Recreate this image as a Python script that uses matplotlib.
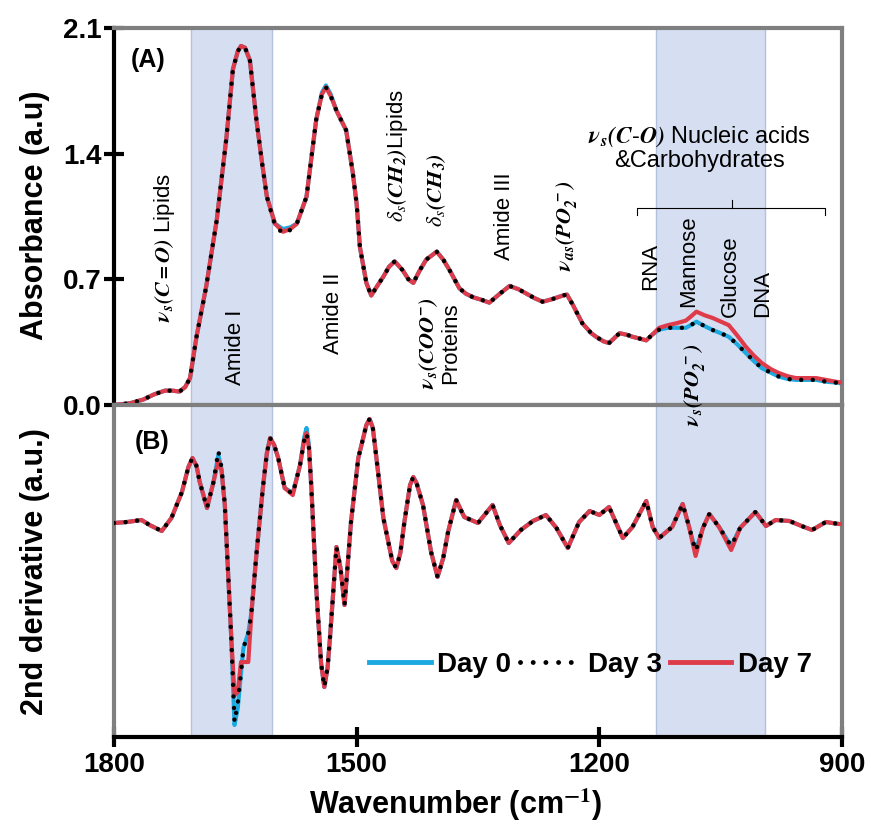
import matplotlib
matplotlib.use('Agg')
import matplotlib.pyplot as plt
from matplotlib.lines import Line2D

plt.rcParams['font.family'] = ['Liberation Sans', 'DejaVu Sans']
plt.rcParams['mathtext.fontset'] = 'stix'

# ---- (A) absorbance spectra ----
wn_abs = [1800, 1780, 1764, 1750, 1737, 1728, 1719, 1712, 1706, 1698,
          1686, 1673, 1661, 1653, 1647, 1643, 1638, 1632, 1624, 1617,
          1611, 1601, 1591, 1582, 1574, 1562, 1550, 1543, 1538, 1532,
          1525, 1513, 1505, 1500, 1496, 1488, 1482, 1475, 1467, 1460,
          1453, 1443, 1436, 1430, 1422, 1414, 1401, 1393, 1385, 1373,
          1365, 1356, 1345, 1336, 1323, 1311, 1300, 1290, 1280, 1270,
          1258, 1245, 1240, 1233, 1221, 1210, 1204, 1195, 1188, 1175,
          1165, 1159, 1150, 1142, 1135, 1126, 1115, 1105, 1093, 1085,
          1080, 1070, 1060, 1050, 1040, 1030, 1019, 1009, 999, 988,
          978, 967, 957, 945, 932, 920, 908, 900]

abs_day7 = [0.00, 0.01, 0.03, 0.06, 0.08, 0.08, 0.075, 0.10, 0.15, 0.38,
            0.66, 1.03, 1.49, 1.87, 1.97, 2.00, 1.99, 1.92, 1.59, 1.35,
            1.16, 1.01, 0.965, 0.98, 1.01, 1.16, 1.59, 1.73, 1.77, 1.72,
            1.64, 1.53, 1.30, 1.12, 0.88, 0.68, 0.61, 0.66, 0.715, 0.77,
            0.80, 0.75, 0.70, 0.68, 0.75, 0.81, 0.854, 0.81, 0.75, 0.65,
            0.62, 0.60, 0.585, 0.57, 0.62, 0.663, 0.645, 0.62, 0.595, 0.575,
            0.59, 0.61, 0.615, 0.56, 0.455, 0.40, 0.38, 0.355, 0.345, 0.40,
            0.39, 0.38, 0.37, 0.36, 0.39, 0.43, 0.445, 0.455, 0.47, 0.50,
            0.52, 0.50, 0.485, 0.465, 0.445, 0.39, 0.325, 0.275, 0.233, 0.20,
            0.178, 0.16, 0.15, 0.15, 0.15, 0.14, 0.13, 0.125]

abs_day0 = [0.00, 0.01, 0.03, 0.06, 0.08, 0.08, 0.075, 0.10, 0.15, 0.38,
            0.66, 1.03, 1.49, 1.87, 1.97, 2.00, 1.99, 1.92, 1.59, 1.35,
            1.16, 1.01, 0.98, 0.99, 1.01, 1.16, 1.59, 1.74, 1.78, 1.73,
            1.64, 1.53, 1.30, 1.12, 0.88, 0.68, 0.61, 0.66, 0.715, 0.77,
            0.80, 0.75, 0.70, 0.68, 0.75, 0.81, 0.854, 0.81, 0.75, 0.65,
            0.62, 0.60, 0.585, 0.57, 0.62, 0.663, 0.645, 0.62, 0.595, 0.575,
            0.59, 0.61, 0.615, 0.56, 0.455, 0.40, 0.38, 0.355, 0.345, 0.40,
            0.39, 0.38, 0.37, 0.36, 0.39, 0.42, 0.43, 0.43, 0.43, 0.45,
            0.464, 0.44, 0.418, 0.40, 0.38, 0.34, 0.29, 0.245, 0.205, 0.18,
            0.158, 0.145, 0.14, 0.14, 0.14, 0.13, 0.125, 0.12]

abs_day3 = [0.00, 0.01, 0.03, 0.06, 0.08, 0.08, 0.075, 0.10, 0.15, 0.38,
            0.66, 1.03, 1.49, 1.87, 1.97, 2.00, 1.99, 1.92, 1.59, 1.35,
            1.16, 1.00, 0.955, 0.975, 1.01, 1.16, 1.59, 1.73, 1.77, 1.72,
            1.64, 1.53, 1.30, 1.12, 0.88, 0.68, 0.61, 0.66, 0.715, 0.77,
            0.80, 0.75, 0.70, 0.68, 0.75, 0.81, 0.854, 0.81, 0.75, 0.65,
            0.62, 0.60, 0.585, 0.57, 0.62, 0.663, 0.645, 0.62, 0.595, 0.575,
            0.59, 0.61, 0.615, 0.56, 0.455, 0.40, 0.38, 0.355, 0.345, 0.40,
            0.39, 0.38, 0.37, 0.36, 0.39, 0.42, 0.43, 0.43, 0.43, 0.45,
            0.464, 0.44, 0.418, 0.40, 0.38, 0.34, 0.29, 0.245, 0.205, 0.18,
            0.158, 0.145, 0.14, 0.14, 0.14, 0.13, 0.125, 0.12]

# ---- (B) second derivative ----
wn_d2 = [1800, 1784, 1766, 1756, 1741, 1729, 1716, 1708, 1703, 1698,
         1694, 1685, 1677, 1671, 1667, 1663, 1659, 1655, 1651, 1647,
         1643, 1640, 1634, 1630, 1624, 1616, 1611, 1607, 1602, 1597,
         1589, 1579, 1570, 1565, 1562, 1559, 1556, 1550, 1544, 1540,
         1536, 1533, 1525, 1520, 1515, 1507, 1498, 1488, 1484, 1480,
         1476, 1467, 1456, 1451, 1446, 1441, 1434, 1430, 1426, 1418,
         1408, 1400, 1393, 1387, 1377, 1367, 1350, 1332, 1323, 1312,
         1297, 1282, 1266, 1253, 1239, 1225, 1212, 1200, 1188, 1171,
         1159, 1142, 1134, 1126, 1110, 1097, 1089, 1081, 1072, 1064,
         1052, 1037, 1026, 1007, 994, 982, 965, 950, 937, 920,
         904, 900]

d2_day7 = [0.00, 0.01, 0.03, -0.02, -0.08, 0.05, 0.31, 0.56, 0.65, 0.57,
           0.41, 0.15, 0.41, 0.63, 0.52, 0.18, -0.49, -1.15, -1.72, -1.69,
           -1.39, -1.39, -1.39, -0.89, -0.32, 0.35, 0.70, 0.85, 0.78, 0.65,
           0.35, 0.28, 0.58, 0.82, 0.90, 0.75, 0.35, -0.65, -1.40, -1.64,
           -1.45, -1.15, -0.24, -0.45, -0.82, 0.01, 0.65, 0.98, 1.04, 0.95,
           0.68, 0.05, -0.38, -0.45, -0.30, 0.01, 0.38, 0.46, 0.40, 0.18,
           -0.29, -0.54, -0.35, -0.09, 0.23, 0.06, 0.00, 0.18, -0.02, -0.20,
           -0.07, 0.02, 0.08, -0.05, -0.25, 0.01, 0.12, 0.08, 0.16, -0.15,
           -0.04, 0.22, -0.04, -0.15, -0.04, 0.19, -0.04, -0.33, -0.05, 0.09,
           -0.04, -0.27, -0.05, 0.11, -0.03, 0.03, 0.02, -0.03, -0.07, 0.01,
           -0.01, -0.01]

d2_day0 = [0.00, 0.01, 0.03, -0.02, -0.08, 0.05, 0.31, 0.56, 0.65, 0.57,
           0.41, 0.15, 0.41, 0.68, 0.54, 0.18, -0.49, -1.15, -2.02, -1.85,
           -1.50, -1.25, -1.10, -0.89, -0.32, 0.35, 0.70, 0.85, 0.78, 0.65,
           0.35, 0.30, 0.58, 0.85, 0.95, 0.78, 0.35, -0.65, -1.40, -1.64,
           -1.45, -1.15, -0.24, -0.45, -0.82, 0.01, 0.65, 0.98, 1.04, 0.95,
           0.68, 0.05, -0.38, -0.45, -0.30, 0.01, 0.38, 0.46, 0.40, 0.18,
           -0.29, -0.54, -0.35, -0.09, 0.23, 0.06, 0.00, 0.18, -0.02, -0.20,
           -0.07, 0.02, 0.08, -0.05, -0.25, 0.01, 0.12, 0.08, 0.16, -0.15,
           -0.04, 0.22, -0.04, -0.15, -0.04, 0.19, -0.04, -0.28, -0.05, 0.09,
           -0.04, -0.23, -0.05, 0.11, -0.03, 0.03, 0.02, -0.03, -0.07, 0.01,
           -0.01, -0.01]

d2_day3 = [0.00, 0.01, 0.03, -0.02, -0.08, 0.05, 0.31, 0.56, 0.65, 0.57,
           0.41, 0.15, 0.41, 0.72, 0.55, 0.18, -0.49, -1.15, -1.99, -1.80,
           -1.50, -1.25, -1.10, -0.89, -0.32, 0.35, 0.70, 0.85, 0.78, 0.65,
           0.35, 0.29, 0.58, 0.82, 0.90, 0.75, 0.35, -0.65, -1.40, -1.64,
           -1.45, -1.15, -0.24, -0.45, -0.82, 0.01, 0.65, 0.98, 1.04, 0.95,
           0.68, 0.05, -0.38, -0.45, -0.30, 0.01, 0.38, 0.46, 0.40, 0.18,
           -0.29, -0.54, -0.35, -0.09, 0.23, 0.06, 0.00, 0.18, -0.02, -0.20,
           -0.07, 0.02, 0.08, -0.05, -0.25, 0.01, 0.12, 0.08, 0.16, -0.15,
           -0.04, 0.22, -0.04, -0.15, -0.04, 0.19, -0.04, -0.28, -0.05, 0.09,
           -0.04, -0.23, -0.05, 0.11, -0.03, 0.03, 0.02, -0.03, -0.07, 0.01,
           -0.01, -0.01]

# shaded bands (cm-1)
bands = [(1705, 1605), (1130, 995)]

c_day0 = '#1ca9e0'
c_day7 = '#de3b4b'
gray = '#7f7f7f'
band_col = '#d6dff1'

fig = plt.figure(figsize=(8.71, 8.27), dpi=100)
ax1 = fig.add_axes([114 / 871, 1 - 405 / 827, 728 / 871, 377 / 827])
ax2 = fig.add_axes([114 / 871, 1 - 737 / 827, 728 / 871, 332 / 827])

for ax in (ax1, ax2):
    for lo, hi in bands:
        ax.axvspan(hi, lo, facecolor=band_col, edgecolor='#b3c1df', lw=1, zorder=0)
    ax.set_xlim(1800, 900)

dots = (0, (0.01, 2.6))
for ax, x, d0, d3, d7 in ((ax1, wn_abs, abs_day0, abs_day3, abs_day7),
                          (ax2, wn_d2, d2_day0, d2_day3, d2_day7)):
    ax.plot(x, d0, color=c_day0, lw=3, zorder=2)
    ax.plot(x, d7, color=c_day7, lw=3, zorder=3)
    ax.plot(x, d3, color='black', lw=3.2, ls=dots, dash_capstyle='round', zorder=4)

# axes styling
ax1.set_ylim(0, 2.1)
ax1.set_yticks([0, 0.7, 1.4, 2.1])
ax1.set_yticklabels(['0.0', '0.7', '1.4', '2.1'], fontsize=20, fontweight='bold')
ax1.tick_params(axis='y', direction='inout', length=14, width=3, pad=2)
ax1.tick_params(axis='x', bottom=False, labelbottom=False)
for s in ('top', 'right', 'bottom'):
    ax1.spines[s].set_color(gray)
    ax1.spines[s].set_linewidth(3)
ax1.spines['left'].set_color('black')
ax1.spines['left'].set_linewidth(3)

ax2.set_ylim(-2.14, 1.18)
ax2.set_yticks([])
ax2.set_xticks([1800, 1500, 1200, 900])
ax2.set_xticklabels(['1800', '1500', '1200', '900'], fontsize=20, fontweight='bold')
ax2.tick_params(axis='x', direction='inout', length=14, width=3, pad=4)
for s in ('top', 'right', 'left'):
    ax2.spines[s].set_color(gray)
    ax2.spines[s].set_linewidth(3)
ax2.spines['bottom'].set_color('black')
ax2.spines['bottom'].set_linewidth(3)

fig.text(35 / 871, 1 - 215 / 827, 'Absorbance (a.u)', rotation=90, ha='center',
         va='center', fontsize=22, fontweight='bold')
fig.text(35 / 871, 1 - 572 / 827, '2nd derivative (a.u.)', rotation=90,
         ha='center', va='center', fontsize=22, fontweight='bold')
fig.text(456 / 871, 1 - 805 / 827, 'Wavenumber (cm$^{\\mathbf{-1}}$)', ha='center',
         va='center', fontsize=22, fontweight='bold')

# panel letters
ax1.text(1758, 1.92, '(A)', ha='center', va='center', fontsize=18, fontweight='bold')
ax2.text(1753, 0.81, '(B)', ha='center', va='center', fontsize=18, fontweight='bold')

fs = 16
rot = dict(rotation=90, ha='center', va='center', fontsize=fs)
ax1.text(1737, 0.875, r'$\mathbfit{\nu_s(C=O)}$ Lipids', **rot)
ax1.text(1650, 0.32, 'Amide I', **rot)
ax1.text(1529, 0.51, 'Amide II', **rot)
ax1.text(1450, 1.39, r'$\delta_s\mathbfit{(CH_2)}$Lipids', **rot)
ax1.text(1401, 1.20, r'$\delta_s\mathbfit{(CH_3)}$', **rot)
ax1.text(1398, 0.345, '$\\mathbfit{\\nu_s(COO^{-})}$\nProteins', linespacing=0.95, **rot)
ax1.text(1317, 1.05, 'Amide III', **rot)
ax1.text(1240, 1.00, r'$\mathbfit{\nu_{as}(PO_2^{\ -})}$', **rot)
ax1.text(1137, 0.77, 'RNA', **rot)
ax1.text(1090, 0.80, 'Mannose', **rot)
ax1.text(1038, 0.72, 'Glucose', **rot)
ax1.text(998, 0.62, 'DNA', **rot)
# this label crosses into panel B, so draw it at figure level
fig.text(1082, 0.11, r'$\mathbfit{\nu_s(PO_2^{\ -})}$', transform=ax1.transData,
         zorder=6, **rot)
ax1.text(1076, 1.43, '$\\mathbfit{\\nu_s(C}$-$\\mathbfit{O)}$ Nucleic acids\n&Carbohydrates',
         ha='center', va='center', fontsize=17, linespacing=1.1)

# bracket over the nucleic acid / carbohydrate bands
ax1.plot([1153, 1153, 921, 921], [1.06, 1.10, 1.10, 1.06], color='black', lw=0.8)
ax1.plot([1036, 1036], [1.10, 1.14], color='black', lw=0.8)

handles = [Line2D([], [], color=c_day0, lw=3.5),
           Line2D([], [], color='black', lw=3.5, ls=dots, dash_capstyle='round'),
           Line2D([], [], color=c_day7, lw=3.5)]
ax2.legend(handles, ['Day 0', 'Day 3', 'Day 7'], ncol=3, loc='center',
           bbox_to_anchor=(0.655, 0.217), frameon=False, handlelength=2.2,
           handletextpad=0.25, columnspacing=0.3,
           prop={'size': 20, 'weight': 'bold'})

fig.savefig('out.png', dpi=100)
